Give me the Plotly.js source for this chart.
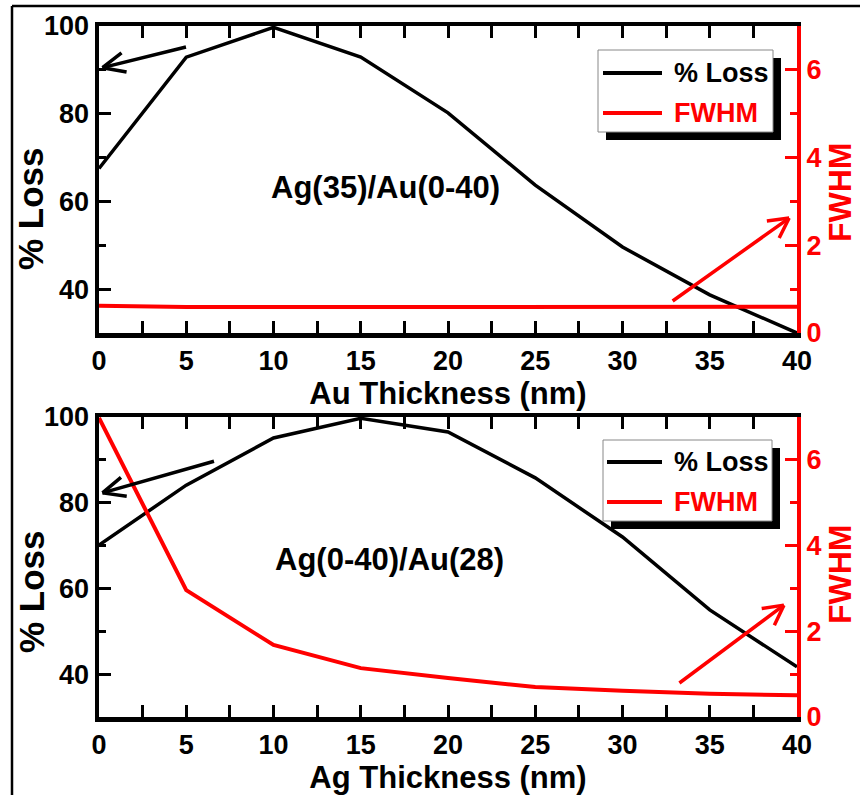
<!DOCTYPE html>
<html>
<head>
<meta charset="utf-8">
<script src="https://cdn.plot.ly/plotly-3.0.1.min.js"></script>
<style>
  html, body { margin: 0; padding: 0; background: #fff; }
  #chart { width: 860px; height: 795px; }
</style>
</head>
<body>
<div id="chart"></div>
<script>
// ---- data ----
const thicknessTop = [0, 5, 10, 15, 20, 25, 30, 35, 40];
const lossTop = [67.5, 92.9, 99.7, 92.9, 80.2, 63.7, 49.6, 38.7, 30.0];
const fwhmTop = [0.62, 0.59, 0.59, 0.59, 0.59, 0.6, 0.6, 0.6, 0.6];

const thicknessBottom = [0, 5, 10, 15, 20, 25, 30, 35, 40];
const lossBottom = [70.1, 84.1, 95.1, 99.7, 96.5, 85.8, 72.0, 55.0, 41.7];
const fwhmBottom = [6.98, 2.96, 1.68, 1.14, 0.91, 0.70, 0.61, 0.54, 0.51];

const xTitleTop = 'Au Thickness (nm)';
const xTitleBottom = 'Ag Thickness (nm)';
const labelTop = 'Ag(35)/Au(0-40)';
const labelBottom = 'Ag(0-40)/Au(28)';
const lossName = '% Loss';
const fwhmName = 'FWHM';

// ---- helpers ----
const W = 860, H = 795;
const px = v => v / W;
const py = v => 1 - v / H;
const FONT = 'Liberation Sans, Arial, sans-serif';
const RED = '#ff0000';

const tickFont = (c) => ({ family: FONT, size: 27, weight: 'bold', color: c });

function xAxis(title, yanchor) {
  return {
    domain: [px(99), px(797)],
    anchor: yanchor,
    range: [0, 40], tick0: 0, dtick: 5,
    showline: true, linewidth: 4.5, linecolor: 'black', mirror: 'allticks',
    ticks: 'inside', ticklen: 12, tickwidth: 3, tickcolor: 'black',
    minor: { dtick: 2.5, ticks: 'inside', ticklen: 7, tickwidth: 3, tickcolor: 'black', showgrid: false },
    showgrid: false, zeroline: false,
    tickfont: tickFont('black'),
    title: { text: title, font: { family: FONT, size: 31, weight: 'bold', color: 'black' }, standoff: 3 },
    automargin: false
  };
}
function yLeft(domain, xanchor) {
  return {
    domain: domain, anchor: xanchor,
    range: [30, 100], tick0: 0, dtick: 20,
    showline: true, linewidth: 4.5, linecolor: 'black', mirror: false,
    ticks: 'inside', ticklen: 12, tickwidth: 3, tickcolor: 'black',
    minor: { dtick: 10, ticks: 'inside', ticklen: 7, tickwidth: 3, tickcolor: 'black', showgrid: false },
    showgrid: false, zeroline: false,
    tickfont: tickFont('black'),
    automargin: false
  };
}
function yRight(overlay, xanchor) {
  return {
    overlaying: overlay, anchor: xanchor, side: 'right',
    range: [0, 7], tick0: 0, dtick: 2,
    showline: true, linewidth: 4, linecolor: RED,
    ticks: 'inside', ticklen: 12, tickwidth: 3, tickcolor: RED,
    minor: { dtick: 1, ticks: 'inside', ticklen: 7, tickwidth: 3, tickcolor: RED, showgrid: false },
    showgrid: false, zeroline: false,
    tickfont: tickFont(RED),
    automargin: false
  };
}

const traces = [
  { x: thicknessTop, y: lossTop, xaxis: 'x', yaxis: 'y', mode: 'lines', name: lossName,
    line: { color: 'black', width: 3.5 }, showlegend: false },
  { x: thicknessTop, y: fwhmTop, xaxis: 'x', yaxis: 'y2', mode: 'lines', name: fwhmName,
    line: { color: RED, width: 4 }, showlegend: false },
  { x: thicknessBottom, y: lossBottom, xaxis: 'x2', yaxis: 'y3', mode: 'lines', name: lossName,
    line: { color: 'black', width: 3.5 }, showlegend: false },
  { x: thicknessBottom, y: fwhmBottom, xaxis: 'x2', yaxis: 'y4', mode: 'lines', name: fwhmName,
    line: { color: RED, width: 4 }, showlegend: false }
];

// ---- legend boxes (manual, with drop shadow) ----
function legendShapes(x0, y0, x1, y1, lineX0, lineX1, yA, yB) {
  return [
    { type: 'rect', xref: 'paper', yref: 'paper', x0: px(x0 + 8), x1: px(x1 + 8), y0: py(y0 + 8), y1: py(y1 + 8),
      fillcolor: 'black', line: { width: 0 }, layer: 'above' },
    { type: 'rect', xref: 'paper', yref: 'paper', x0: px(x0), x1: px(x1), y0: py(y0), y1: py(y1),
      fillcolor: 'white', line: { color: '#888', width: 1 }, layer: 'above' },
    { type: 'line', xref: 'paper', yref: 'paper', x0: px(lineX0), x1: px(lineX1), y0: py(yA), y1: py(yA),
      line: { color: 'black', width: 4 }, layer: 'above' },
    { type: 'line', xref: 'paper', yref: 'paper', x0: px(lineX0), x1: px(lineX1), y0: py(yB), y1: py(yB),
      line: { color: RED, width: 4 }, layer: 'above' }
  ];
}
function legendTexts(tx, yA, yB) {
  return [
    { xref: 'paper', yref: 'paper', x: px(tx), y: py(yA), xanchor: 'left', yanchor: 'middle', showarrow: false,
      text: lossName, font: { family: FONT, size: 27, weight: 'bold', color: 'black' } },
    { xref: 'paper', yref: 'paper', x: px(tx), y: py(yB), xanchor: 'left', yanchor: 'middle', showarrow: false,
      text: fwhmName, font: { family: FONT, size: 27, weight: 'bold', color: RED } }
  ];
}

const shapes = [
  ...legendShapes(598, 50, 773, 132, 603, 662, 73, 113),
  ...legendShapes(603, 440, 772, 521, 607, 662, 462, 502),
  // outer frame
  { type: 'line', xref: 'paper', yref: 'paper', x0: px(12), x1: 1.01, y0: py(6), y1: py(6),
    line: { color: 'black', width: 2.5 } },
  { type: 'line', xref: 'paper', yref: 'paper', x0: px(12), x1: px(12), y0: py(6), y1: -0.01,
    line: { color: 'black', width: 2.5 } }
];

// open chevron arrow: shaft + two thin arms, all drawn as annotation lines from the tip
function arrow(xref, yref, x, y, ax, ay, color, halfAngleDeg, armLen) {
  const base = { xref: xref, yref: yref, x: x, y: y, text: '', showarrow: true,
    arrowhead: 0, arrowwidth: 3.5, arrowcolor: color, standoff: 0 };
  const ang = Math.atan2(ay, ax);
  const a = halfAngleDeg * Math.PI / 180;
  return [
    Object.assign({}, base, { ax: ax, ay: ay }),
    Object.assign({}, base, { ax: armLen * Math.cos(ang + a), ay: armLen * Math.sin(ang + a) }),
    Object.assign({}, base, { ax: armLen * Math.cos(ang - a), ay: armLen * Math.sin(ang - a) })
  ];
}

const titleAnn = (x, y, text, size, color) => ({
  xref: 'paper', yref: 'paper', x: px(x), y: py(y), xanchor: 'center', yanchor: 'middle',
  showarrow: false, text: text, textangle: -90,
  font: { family: FONT, size: size, weight: 'bold', color: color }
});

const annotations = [
  { xref: 'paper', yref: 'paper', x: px(385), y: py(188), xanchor: 'center', yanchor: 'middle',
    showarrow: false, text: labelTop,
    font: { family: FONT, size: 31, weight: 'bold', color: 'black' } },
  { xref: 'paper', yref: 'paper', x: px(389), y: py(559), xanchor: 'center', yanchor: 'middle',
    showarrow: false, text: labelBottom,
    font: { family: FONT, size: 31, weight: 'bold', color: 'black' } },
  // y titles
  titleAnn(31, 209, lossName, 35, 'black'),
  titleAnn(840, 192, fwhmName, 32, RED),
  titleAnn(31, 592, lossName, 35, 'black'),
  titleAnn(840, 574, fwhmName, 32, RED),
  // arrows
  ...arrow('x', 'y', 0.2, 90.5, 85, -21, 'black', 24, 26),
  ...arrow('x', 'y2', 39.55, 2.62, -118, 84, RED, 28, 24),
  ...arrow('x2', 'y3', 0.2, 82.3, 113, -32, 'black', 24, 26),
  ...arrow('x2', 'y4', 39.25, 2.61, -106, 79, RED, 28, 24),
  ...legendTexts(672, 73, 113),
  ...legendTexts(672, 462, 502)
];

const layout = {
  width: W, height: H,
  margin: { l: 0, r: 0, t: 0, b: 0 },
  paper_bgcolor: 'white', plot_bgcolor: 'white',
  showlegend: false,
  xaxis: xAxis(xTitleTop, 'y'),
  yaxis: yLeft([py(333), py(26)], 'x'),
  yaxis2: yRight('y', 'x'),
  xaxis2: xAxis(xTitleBottom, 'y3'),
  yaxis3: yLeft([py(717), py(417)], 'x2'),
  yaxis4: yRight('y3', 'x2'),
  shapes: shapes,
  annotations: annotations
};

Plotly.newPlot('chart', traces, layout, { displayModeBar: false, staticPlot: true });
</script>
</body>
</html>
